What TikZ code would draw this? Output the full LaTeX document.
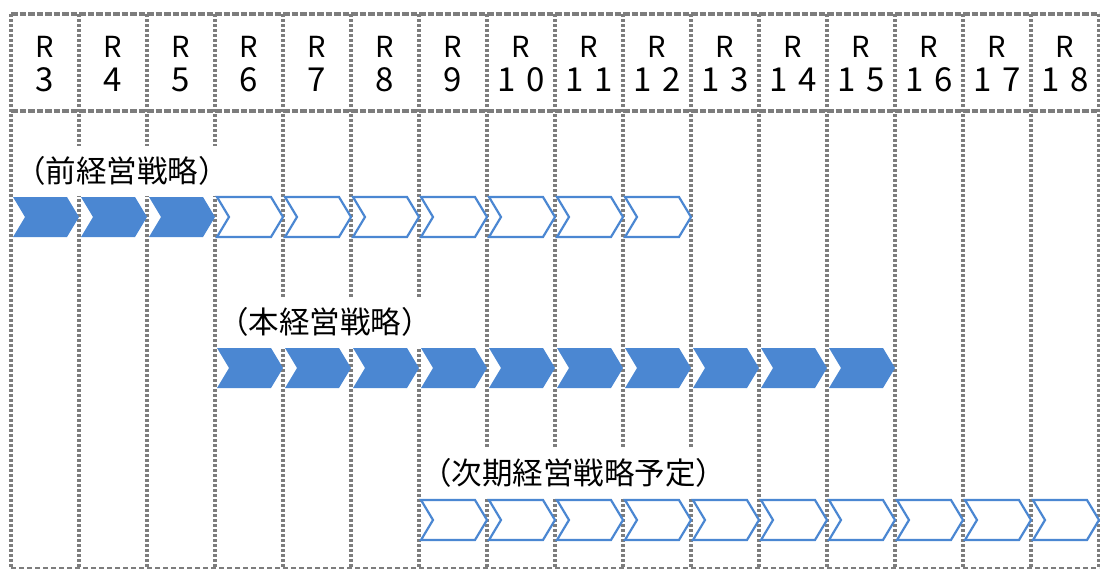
\documentclass[tikz,border=0pt]{standalone}
\usepackage{fontspec}
\setmainfont{Noto Sans CJK JP}
\definecolor{lgray}{RGB}{125,125,125}
\definecolor{cblue}{RGB}{75,135,210}
\begin{document}
\begin{tikzpicture}[x=1pt,y=-1pt,
  vline/.style={draw=lgray, line width=3.3pt, dash pattern=on 3pt off 2pt},
  hline/.style={draw=lgray, line width=3.3pt, dash pattern=on 6.5pt off 2pt},
  bline/.style={draw=lgray, line width=1.6pt, dash pattern=on 5pt off 3pt},
  full/.style={fill=cblue},
  hollow/.style={draw=cblue, line width=2.2pt, fill=white},
  ttl/.style={fill=white, inner sep=0pt, anchor=west, minimum height=50pt, font=\fontsize{30.5}{36}\selectfont},
  rlab/.style={inner sep=0pt, font=\fontsize{29}{32}\selectfont},
  nlab/.style={inner sep=0pt, font=\fontsize{33}{40}\selectfont},
  chev/.pic={\path[pic actions] (2,-20) -- (56,-20) -- (68,0) -- (56,20) -- (2,20) -- (14,0) -- cycle;}
]
\useasboundingbox (0,0) rectangle (1100,570);
% grid
\foreach \k in {0,...,16} \draw[vline] ({11+68*\k},14) -- ({11+68*\k},568);
\draw[hline] (11,14) -- (1099,14);
\draw[hline] (11,111) -- (1099,111);
\draw[bline] (11,568) -- (1099,568);
% header
\foreach \k/\n in {0/3,1/4,2/5,3/6,4/7,5/8,6/9,7/{1\hspace{10pt}0},8/{1\hspace{10pt}1},9/{1\hspace{10pt}2},10/{1\hspace{10pt}3},11/{1\hspace{10pt}4},12/{1\hspace{10pt}5},13/{1\hspace{10pt}6},14/{1\hspace{10pt}7},15/{1\hspace{10pt}8}}{
  \node[rlab] (r\k) at ({45+68*\k},47) {R};
  \node[nlab] (n\k) at ({45+68*\k},80) {\n};
}
% titles
\node[ttl] (prev) at (15,171) {（前経営戦略）};
\node[ttl] (cur) at (218,322) {（本経営戦略）};
\node[ttl] (next) at (421,473) {（次期経営戦略予定）};
% chevrons
\foreach \k in {0,1,2} \pic[full] at ({11+68*\k},217) {chev};
\foreach \k in {3,...,9} \pic[hollow] at ({11+68*\k},217) {chev};
\foreach \k in {3,...,12} \pic[full] at ({11+68*\k},368) {chev};
\foreach \k in {6,...,15} \pic[hollow] at ({11+68*\k},520) {chev};
\end{tikzpicture}
\end{document}
